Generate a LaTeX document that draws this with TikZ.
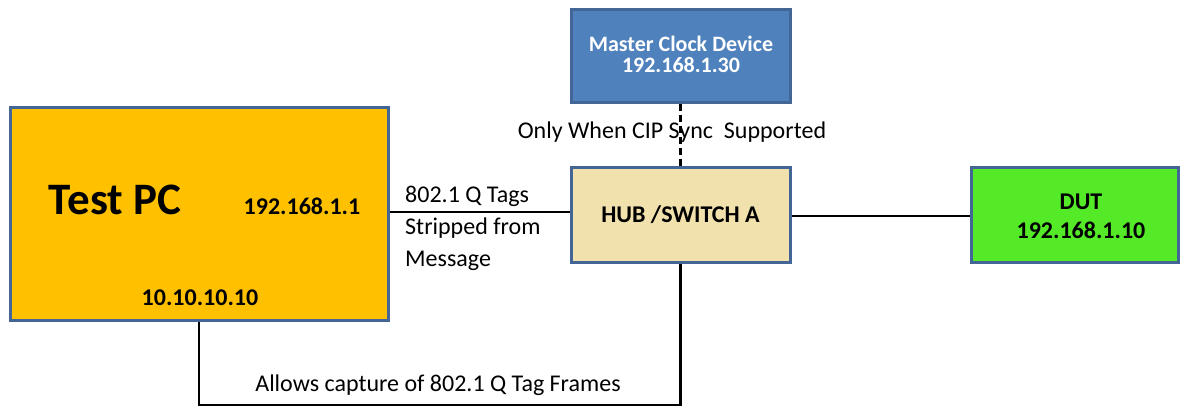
\documentclass[tikz,border=0pt]{standalone}
\usepackage{fontspec}
\setmainfont{Carlito}
\usetikzlibrary{positioning,calc}

\definecolor{edgeblue}{RGB}{68,102,150}
\definecolor{clockblue}{RGB}{79,129,189}
\definecolor{pcorange}{RGB}{255,192,0}
\definecolor{hubtan}{RGB}{241,225,172}
\definecolor{dutgreen}{RGB}{84,234,40}

\begin{document}
\begin{tikzpicture}[x=1pt,y=-1pt,
  box/.style={draw=edgeblue,line width=3pt,rectangle,inner sep=0pt},
  wire/.style={line width=2.6pt,black},
  boldtext/.style={font=\bfseries\fontsize{24}{29}\selectfont,align=center,inner sep=0pt},
  note/.style={font=\fontsize{24}{28}\selectfont,inner sep=0pt}]
\useasboundingbox (0,0) rectangle (1186,406);
% boxes
\node [box,fill=clockblue,minimum width=219pt,minimum height=93pt] (clock) at (680.5,56.5) {};
\node [box,fill=pcorange,minimum width=378pt,minimum height=212pt] (pc) at (199,214) {};
\node [box,fill=hubtan,minimum width=219pt,minimum height=94pt] (hub) at (680.5,215) {};
\node [box,fill=dutgreen,minimum width=207pt,minimum height=94pt] (dut) at (1074.5,215) {};
% texts in the boxes
\node [boldtext,text=white,font=\bfseries\fontsize{22}{21}\selectfont] (clocktext) at (681,54) {Master Clock Device\\192.168.1.30};
\node [boldtext] (hubtext) at (hub.center) {HUB /SWITCH A};
\node [boldtext] (duttext) at (1081,216) {DUT\\192.168.1.10};
\node [boldtext,font=\bfseries\fontsize{45}{50}\selectfont] (pcname) at (115,200) {Test PC};
\node [boldtext] (pcaddr) at (302,206) {192.168.1.1};
\node [boldtext] (pcaddr2) at (200,298) {10.10.10.10};
% connectors
\draw [wire] (pc.east |- 0,212) -- (hub.west |- 0,212);
\draw [wire] (hub.east |- 0,216) -- (dut.west |- 0,216);
\draw [wire,dash pattern=on 7pt off 4pt] (clock.south) -- (hub.north);
\draw [wire] (pc.south) -- ++(0,84) -| (hub.south);
% labels on the connectors
\node [note] (syncnote) at (672,132) {Only When CIP Sync~~Supported};
\node [note,anchor=west,align=left,font=\fontsize{24}{32}\selectfont] (tagnote) at (405,228) {802.1 Q Tags\\Stripped from\\Message};
\node [note] (capnote) at (438,385) {Allows capture of 802.1 Q Tag Frames};
\end{tikzpicture}
\end{document}
